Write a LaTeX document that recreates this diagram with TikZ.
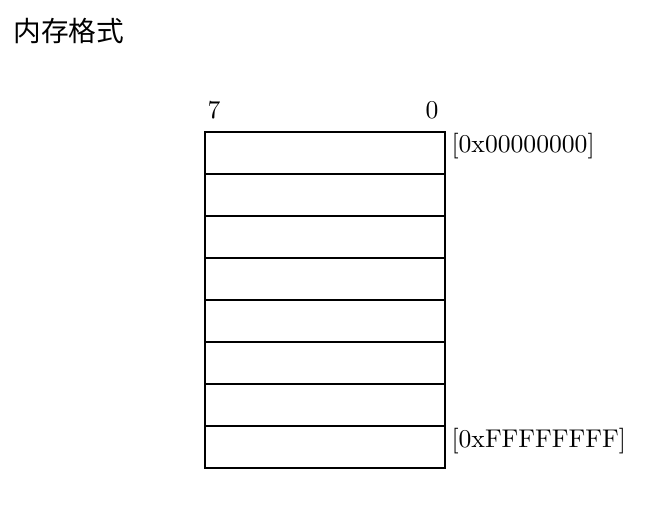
\documentclass[tikz,border=0pt]{standalone}
\usepackage{fontspec}
\newfontfamily\cjk{Noto Sans CJK SC}
\usetikzlibrary{positioning}

\begin{document}
\begin{tikzpicture}[x=0.39pt,y=-0.39pt,
        cell/.style={draw,line width=0.8pt,minimum width=93.6pt,minimum height=16.38pt,inner sep=0pt,outer sep=0pt},
        addr/.style={anchor=west,inner sep=0pt}]
        \useasboundingbox (0,0) rectangle (672,510);

        \node[anchor=west,inner sep=0pt,font=\cjk\fontsize{10.8pt}{13pt}\selectfont] (title) at (13,31) {内存格式};

        % eight bytes, one per row
        \foreach \i in {0,...,7}
            \node[cell] (row\i) at (325,153+42*\i) {};

        \node (msb) at (214,110) {7};
        \node (lsb) at (432,110) {0};

        \node[addr] (first) at (451,146) {[0x00000000]};
        \node[addr] (last) at (451,441) {[0xFFFFFFFF]};
    \end{tikzpicture}
\end{document}
